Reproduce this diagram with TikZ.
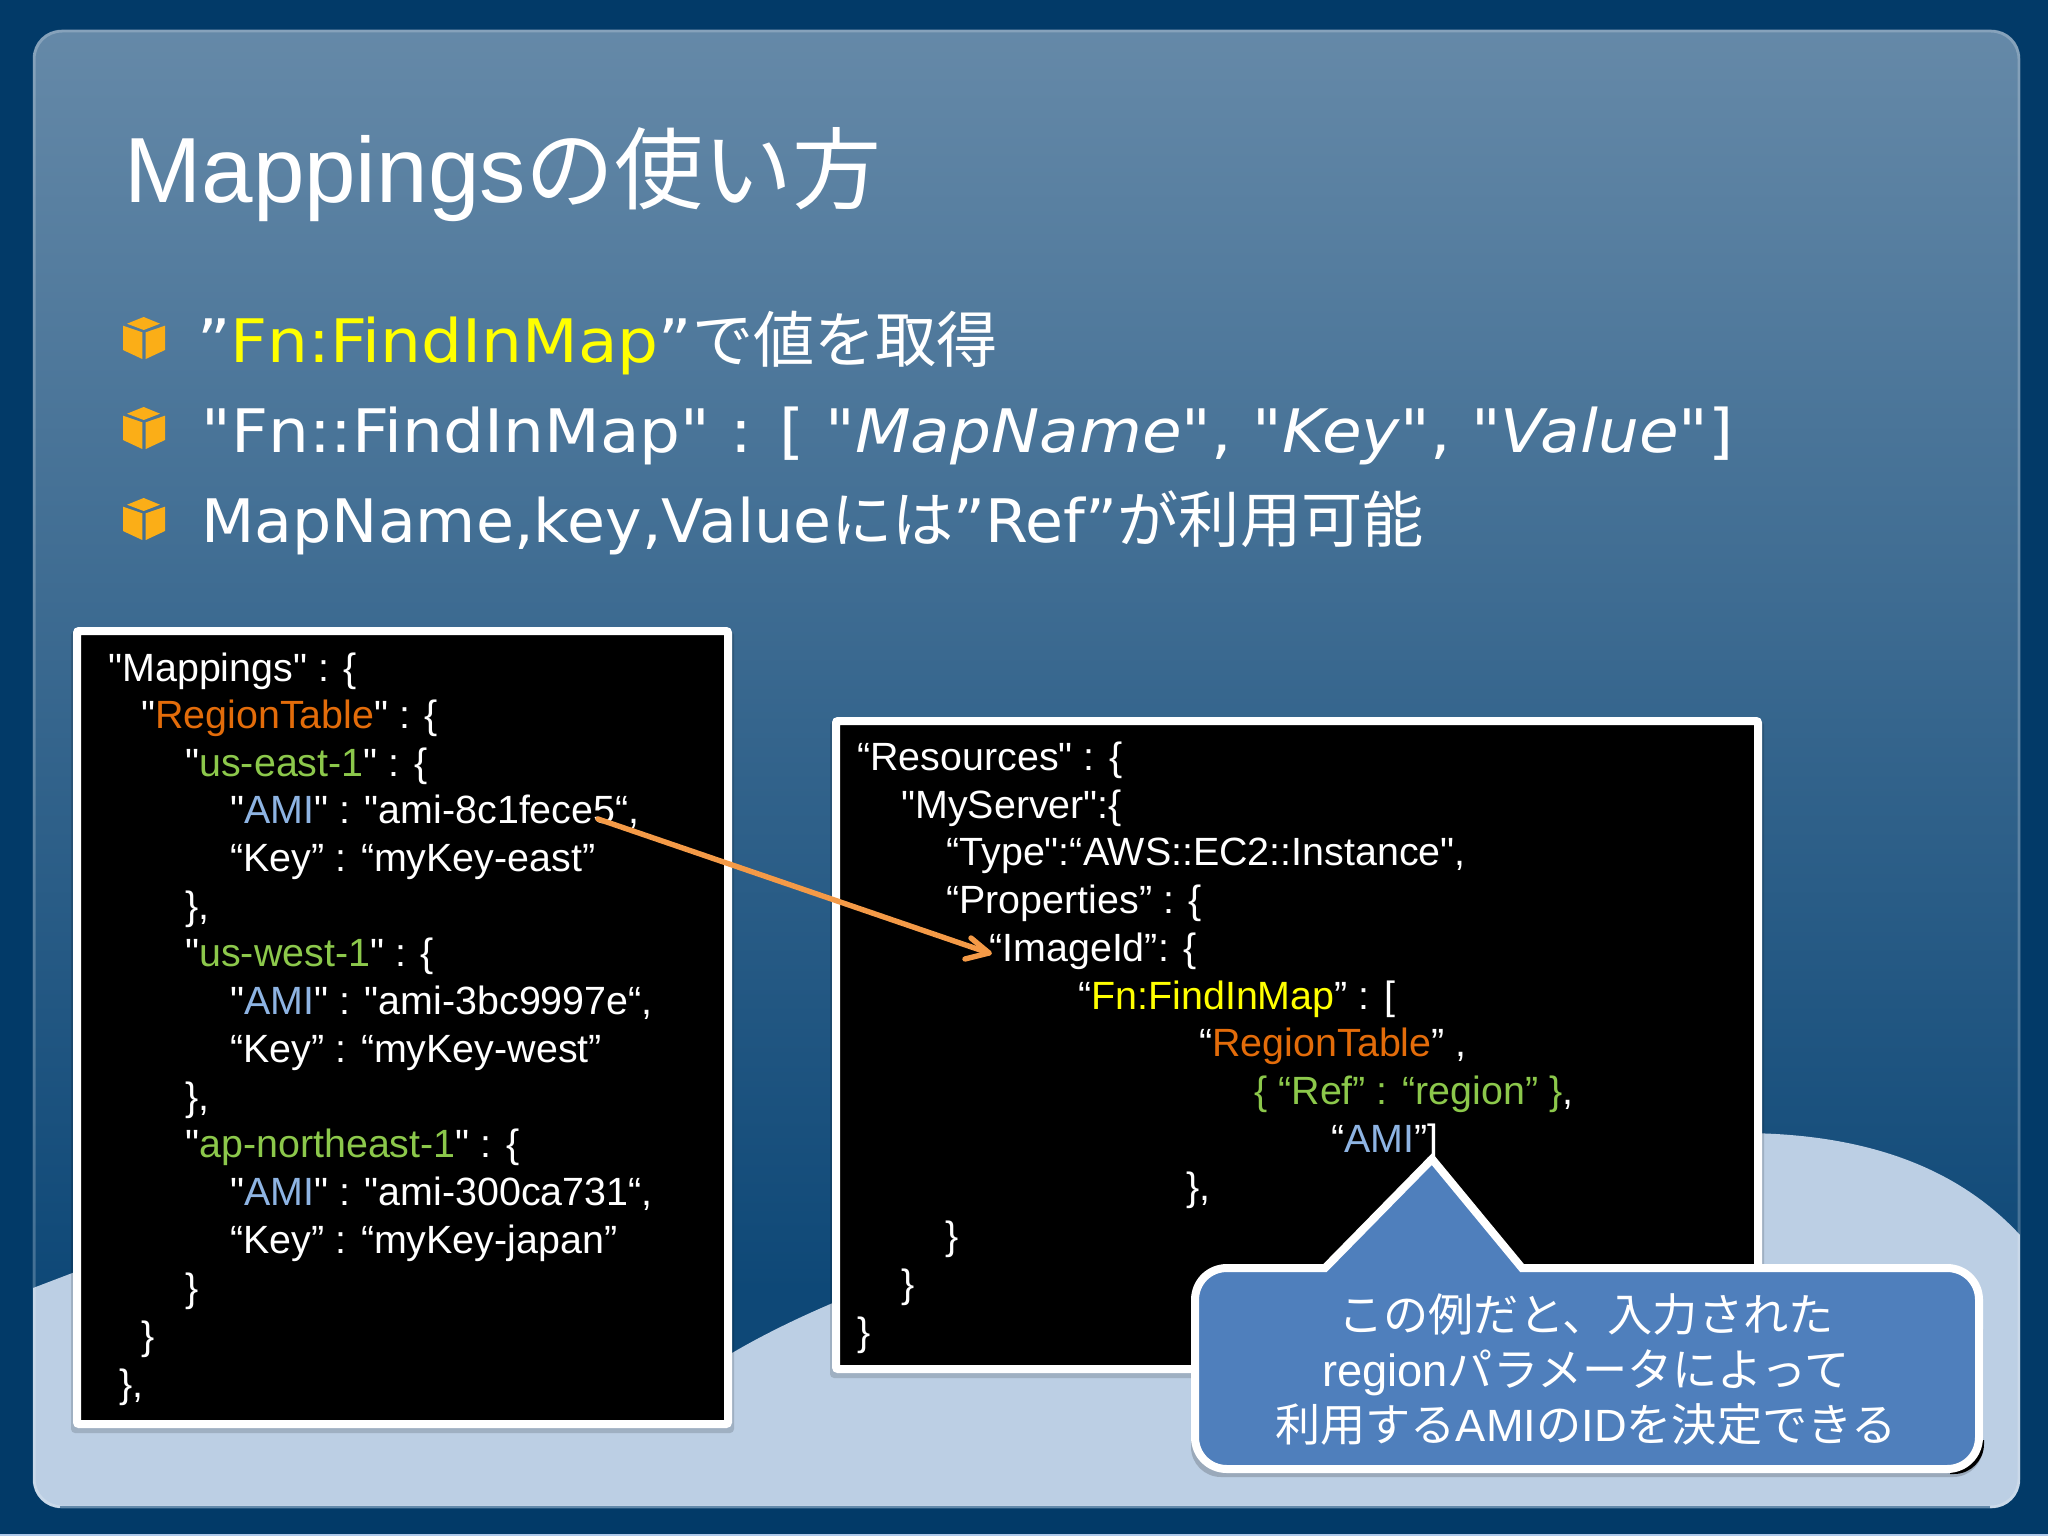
\documentclass[tikz,border=0pt]{standalone}
\usepackage{fontspec}
\newfontfamily\lib{Liberation Sans}
\newfontfamily\cjk{Noto Sans CJK JP}
\newfontfamily\bul[FakeStretch=1.075]{DejaVu Sans}
\newfontfamily\bulb[FakeStretch=1.03]{DejaVu Sans}
\definecolor{pagebg}{HTML}{023A68}
\definecolor{paneltop}{HTML}{6589A8}
\definecolor{panelmid}{HTML}{335F87}
\definecolor{panelbot}{HTML}{0E4877}
\definecolor{hill}{HTML}{BCCFE4}
\definecolor{cout}{HTML}{4F7FBC}
\definecolor{codeor}{HTML}{E36C0A}
\definecolor{codegr}{HTML}{8CC84B}
\definecolor{codebl}{HTML}{8EB4E3}
\definecolor{codeye}{HTML}{FFFF00}
\definecolor{arr}{HTML}{F49A47}
\definecolor{cube}{HTML}{FBAE17}
\tikzset{
 x=0.5pt,y=-0.5pt,
 codebox/.style={fill=black,draw=white,line width=4pt,rounded corners=1pt},
 shadowbox/.style={fill=black,fill opacity=.15,rounded corners=2pt},
 cl/.style={anchor=base west,text=white,inner sep=0pt,font=\lib\fontsize{19.7}{20}\selectfont},
 bl/.style={anchor=base west,text=white,inner sep=0pt,font=\bul\fontsize{30}{30}\selectfont},
 ct/.style={anchor=base,text=white,inner sep=0pt,font=\lib\fontsize{22.6}{23}\selectfont},
 cubebody/.style={fill=cube},
}
\newcommand{\cubeicon}[2]{%
 \begin{scope}[shift={(#1,#2)}]
  \fill[cubebody] (-21,-12.3)--(-1.7,-5.7)--(-1.7,21)--(-21,12)--cycle;
  \fill[cubebody] (1.7,-5.7)--(21,-12.3)--(21,12)--(1.7,21)--cycle;
  \fill[cubebody] (-0.3,-21)--(16,-14.3)--(-0.3,-8)--(-17,-14.3)--cycle;
 \end{scope}}
\newcommand{\cj}[1]{{\cjk\fontsize{30.6}{31}\selectfont #1}}
\begin{document}
\begin{tikzpicture}
\useasboundingbox (0,0) rectangle (2048,1536);
\fill[pagebg] (0,0) rectangle (2048,1536);
\fill[codebl!70!white] (0,1534) rectangle (2048,1536);
\begin{scope}
 \clip[rounded corners=14pt] (33,30) rectangle (2020,1508);
 \shade[top color=paneltop,middle color=panelmid,bottom color=panelbot] (33,30) rectangle (2020,1290);
 \fill[panelbot] (33,1290) rectangle (2020,1508);
 \fill[hill] (33,1288) -- (75,1272) .. controls (220,1220) and (380,1400) .. (500,1420)
   .. controls (600,1430) and (660,1395) .. (732,1353)
   .. controls (950,1225) and (1400,1133) .. (1740,1133)
   .. controls (1870,1133) and (1960,1170) .. (2020,1235) -- (2020,1508) -- (33,1508) -- cycle;
\end{scope}
\draw[rounded corners=14pt,white,opacity=.22,line width=1.5pt] (34,31) rectangle (2019,1507);
\draw[panelbot,opacity=.55,line width=1.5pt] (60,1507) -- (1990,1507);

\node[anchor=base west,text=white,inner sep=0pt,font=\lib\fontsize{46.3}{47}\selectfont] (title) at (124,202) {Mappings{\cjk\fontsize{44.5}{45}\selectfont の使い方}};

\cubeicon{144}{338}
\cubeicon{144}{428}
\cubeicon{144}{519}
\node[bl] (b1) at (197,362) {”\textcolor{codeye}{Fn:FindInMap}”\cj{で値を取得}};
\node[bl] (b2) at (201,452) {"Fn::FindInMap" : [ "\textit{MapName}", "\textit{Key}", "\textit{Value}"]};
\node[bl] (b3) at (201,542) {\bulb\fontsize{30}{30}\selectfont MapName,key,Value\cj{には}”Ref”\cj{が利用可能}};

% left box
\fill[shadowbox] (71,631) rectangle (734,1433);
\path[codebox] (77,631) rectangle (728,1424);
\node[cl] (l1) at (108,681) {"Mappings" : \{};
\node[cl] (l2) at (141,728) {"\textcolor{codeor}{RegionTable}" : \{};
\node[cl] (l3) at (185,776) {"\textcolor{codegr}{us-east-1}" : \{};
\node[cl] (l4) at (230,823) {"\textcolor{codebl}{AMI}" : "ami-8c1fece5“,};
\node[cl] (l5) at (230,871) {“Key” : “myKey-east”};
\node[cl] (l6) at (185,919) {\},};
\node[cl] (l7) at (185,966) {"\textcolor{codegr}{us-west-1}" : \{};
\node[cl] (l8) at (230,1014) {"\textcolor{codebl}{AMI}" : "ami-3bc9997e“,};
\node[cl] (l9) at (230,1062) {“Key” : “myKey-west”};
\node[cl] (l10) at (185,1110) {\},};
\node[cl] (l11) at (185,1157) {"\textcolor{codegr}{ap-northeast-1}" : \{};
\node[cl] (l12) at (230,1205) {"\textcolor{codebl}{AMI}" : "ami-300ca731“,};
\node[cl] (l13) at (230,1253) {“Key” : “myKey-japan”};
\node[cl] (l14) at (185,1301) {\}};
\node[cl] (l15) at (141,1349) {\}};
\node[cl] (l16) at (119,1397) {\},};

% right box
\fill[shadowbox] (830,721) rectangle (1764,1378);
\path[codebox] (836,721) rectangle (1758,1369);
\node[cl] (r1) at (857,770) {“Resources" : \{};
\node[cl] (r2) at (901,818) {"MyServer":\{};
\node[cl] (r3) at (946,865) {“Type":“AWS::EC2::Instance",};
\node[cl] (r4) at (946,913) {“Properties” : \{};
\node[cl] (r5) at (989,961) {“ImageId”: \{};
\node[cl] (r6) at (1078,1009) {“\textcolor{codeye}{Fn:FindInMap}” : [};
\node[cl] (r7) at (1199,1056) {“\textcolor{codeor}{RegionTable}” ,};
\node[cl] (r8) at (1254,1104) {\textcolor{codegr}{\{ “Ref” : “region” \}},};
\node[cl] (r9) at (1331,1152) {“\textcolor{codebl}{AMI}”]};
\node[cl] (r10) at (1186,1200) {\},};
\node[cl] (r11) at (945,1249) {\}};
\node[cl] (r12) at (901,1297) {\}};
\node[cl] (r13) at (857,1345) {\}};

% arrow
\coordinate (arrS) at (598,819);
\coordinate (arrT) at (989,953);
\draw[arr,line width=2.7pt,line cap=round] (arrS) -- (arrT);
\draw[arr,line width=2.7pt,line cap=round,line join=round] (971,938) -- (arrT) -- (965,959);

% callout
\begin{scope}
 \clip (1950,1440) rectangle (1990,1480);
 \fill[black,rounded corners=15pt] (1900,1400) rectangle (1984,1474);
\end{scope}
\fill[black,opacity=.18,rounded corners=15pt] (1191,1300) rectangle (1983,1477);
\draw[fill=cout,draw=white,line width=4pt,miter limit=10]
  (1325,1268) -- (1227,1268) .. controls (1209,1268) and (1195,1282) .. (1195,1300)
  -- (1195,1437) .. controls (1195,1455) and (1209,1469) .. (1227,1469)
  -- (1947,1469) .. controls (1965,1469) and (1979,1455) .. (1979,1437)
  -- (1979,1300) .. controls (1979,1282) and (1965,1268) .. (1947,1268)
  -- (1522,1268) -- (1432,1159) -- cycle;
\node[ct] (c1) at (1586,1331) {\cjk この例だと、入力された};
\node[ct] (c2) at (1586,1386) {region{\cjk パラメータによって}};
\node[ct] (c3) at (1586,1441) {{\cjk 利用する}AMI{\cjk の}ID{\cjk を決定できる}};
\end{tikzpicture}
\end{document}
